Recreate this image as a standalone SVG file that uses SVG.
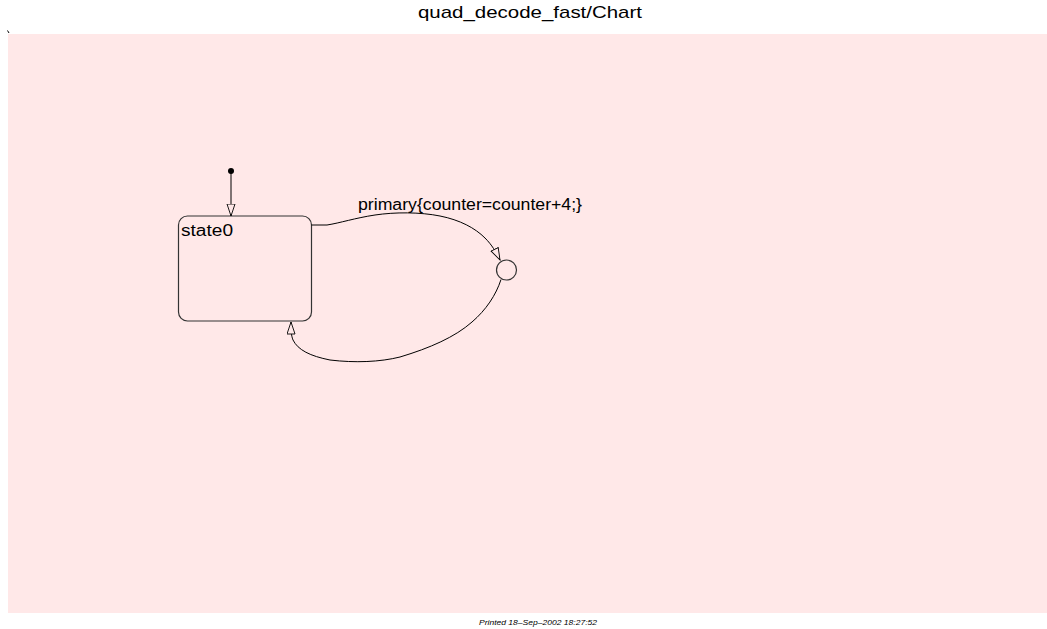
<svg xmlns="http://www.w3.org/2000/svg" width="1047" height="629" viewBox="0 0 1047 629">
  <defs>
    <marker id="open-arrow" markerWidth="14" markerHeight="10" refX="12.5" refY="4.5" orient="auto" markerUnits="userSpaceOnUse">
      <path d="M0.5,0.5 L12.5,4.5 L0.5,8.5 Z" fill="#ffe8e8" stroke="#000" stroke-width="0.9"/>
    </marker>
  </defs>
  <style>
    .txt { font-family: "Liberation Sans", Arial, sans-serif; fill: #000; }
    .edge { fill: none; stroke: #000; stroke-width: 1; }
    .node { fill: #ffe8e8; stroke: #333; stroke-width: 1.2; }
  </style>

  <rect x="0" y="0" width="1047" height="629" fill="#fff"/>
  <text class="txt" x="530" y="18" font-size="17" text-anchor="middle" textLength="224" lengthAdjust="spacingAndGlyphs">quad_decode_fast/Chart</text>
  <path d="M7.5,30.5 L9,33" stroke="#000" stroke-width="1"/>

  <!-- chart canvas -->
  <rect id="canvas" x="8" y="34" width="1039" height="579" fill="#ffe8e8"/>

  <g id="state0">
    <rect class="node" x="178.5" y="216" width="133" height="105" rx="9" ry="9"/>
    <text class="txt" x="181" y="236" font-size="16" textLength="52" lengthAdjust="spacingAndGlyphs">state0</text>
  </g>

  <g id="junction">
    <circle class="node" cx="506.5" cy="270" r="10"/>
  </g>

  <g id="default-dot">
    <circle cx="231" cy="171" r="3" fill="#000"/>
  </g>

  <g id="connectors">
    <path class="edge" d="M231,171 L231,216" marker-end="url(#open-arrow)"/>
    <path class="edge" d="M311.5,225 L327,225 C340,223 355,218 375,215 C395,212 420,212 440,216 C460,220 475,228 485,238 C492,245 496,252 500,260" marker-end="url(#open-arrow)"/>
    <path class="edge" d="M501,279.5 C496,295 486,310 472,322 C455,337 430,348 400,357 C380,362 355,363 330,360 C310,356 298,350 293,340 C291,335 291,330 291,322" marker-end="url(#open-arrow)"/>
    <text class="txt" x="358" y="210" font-size="16" textLength="224" lengthAdjust="spacingAndGlyphs">primary{counter=counter+4;}</text>
  </g>

  <text class="txt" x="538" y="625" font-size="8" font-style="italic" text-anchor="middle" textLength="118" lengthAdjust="spacingAndGlyphs">Printed 18–Sep–2002 18:27:52</text>
</svg>
